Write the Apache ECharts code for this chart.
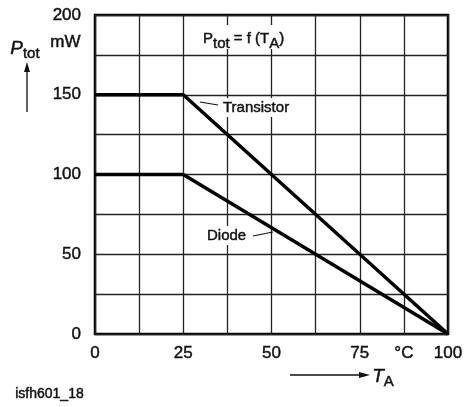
<!DOCTYPE html>
<html>
<head>
<meta charset="utf-8">
<script src="https://cdn.jsdelivr.net/npm/echarts@6/dist/echarts.min.js"></script>
<style>
  html, body { margin: 0; padding: 0; background: #fff; }
  #chart { width: 466px; height: 407px; }
</style>
</head>
<body>
<div id="chart"></div>
<script>
// ambient temperature (°C) vs total power dissipation (mW)
const transistorT = [0, 25, 100];
const transistorP = [150, 150, 0];
const diodeT = [0, 25, 100];
const diodeP = [100, 100, 0];
const xTickLabels = { 0: "0", 25: "25", 50: "50", 75: "75", 87.5: "°C", 100: "100" };
const yTickLabels = { 0: "0", 50: "50", 100: "100", 150: "150", 200: "200" };

const font = "Liberation Sans, Arial, Helvetica, sans-serif";
const ink = "#111";
// slight outline so the text reads as medium weight like the original
const heavy = { textBorderColor: ink, textBorderWidth: 0.45 }; // axis labels
const heavyG = { stroke: ink, lineWidth: 0.45 };                 // graphic text

let my_chart = echarts.init(document.getElementById("chart"));

function pairs(xs, ys) {
  return xs.map((x, i) => [x, ys[i]]);
}

my_chart.setOption({
  animation: false,
  backgroundColor: "#fff",
  grid: {
    left: 95,
    right: 18,
    top: 15,
    bottom: 73,
    show: true,
    borderColor: "#000",
    borderWidth: 2.5,
  },
  xAxis: {
    type: "value",
    min: 0,
    max: 100,
    interval: 12.5,
    axisLine: { show: false },
    axisTick: { show: false },
    splitLine: { lineStyle: { color: "#222", width: 1.3 } },
    axisLabel: Object.assign({
      margin: 11,
      color: ink,
      fontFamily: font,
      fontSize: 17,
      formatter: (v) => (xTickLabels[v] !== undefined ? xTickLabels[v] : ""),
    }, heavy),
  },
  yAxis: {
    type: "value",
    min: 0,
    max: 200,
    interval: 25,
    axisLine: { show: false },
    axisTick: { show: false },
    splitLine: { lineStyle: { color: "#222", width: 1.3 } },
    axisLabel: Object.assign({
      margin: 14,
      color: ink,
      fontFamily: font,
      fontSize: 17,
      formatter: (v) => (yTickLabels[v] !== undefined ? yTickLabels[v] : ""),
    }, heavy),
  },
  series: [
    {
      name: "Transistor",
      type: "line",
      data: pairs(transistorT, transistorP),
      symbol: "none",
      lineStyle: { color: "#000", width: 3.5 },
      z: 3,
    },
    {
      name: "Diode",
      type: "line",
      data: pairs(diodeT, diodeP),
      symbol: "none",
      lineStyle: { color: "#000", width: 3.5 },
      z: 3,
    },
  ],
  graphic: [
    // title
    {
      type: "text",
      left: 200,
      top: 25,
      z: 10,
      style: {
        text: "{n|P}{s|tot}{n| = f (T}{s|A}{n|)}",
        backgroundColor: "#fff",
        padding: [3, 3, 3, 3],
        rich: {
          n: Object.assign({ fontFamily: font, fontSize: 15, fill: ink, verticalAlign: "bottom", lineHeight: 18 }, heavyG),
          s: Object.assign({ fontFamily: font, fontSize: 15, fill: ink, verticalAlign: "bottom", lineHeight: 13, padding: [0, 0, -5, 0] }, heavyG),
        },
      },
    },
    // y axis name
    {
      type: "text",
      left: 10,
      top: 36,
      style: {
        text: "{i|P}{s|tot}",
        rich: {
          i: Object.assign({ fontFamily: font, fontSize: 19, fontStyle: "italic", fill: ink, lineHeight: 22 }, heavyG),
          s: Object.assign({ fontFamily: font, fontSize: 15, fill: ink, lineHeight: 22, padding: [10, 0, 0, 0] }, heavyG),
        },
      },
    },
    {
      type: "text",
      left: 50,
      top: 34,
      style: Object.assign({ text: "mW", fontFamily: font, fontSize: 17, fill: ink }, heavyG),
    },
    { type: "line", shape: { x1: 27, y1: 112, x2: 27, y2: 70 }, style: { stroke: ink, lineWidth: 1.3 } },
    { type: "polygon", shape: { points: [[27, 62], [24, 72], [30, 72]] }, style: { fill: ink } },
    // x axis name
    { type: "line", shape: { x1: 290, y1: 375, x2: 360, y2: 375 }, style: { stroke: ink, lineWidth: 1.3 } },
    { type: "polygon", shape: { points: [[370, 375], [359, 372], [359, 378]] }, style: { fill: ink } },
    {
      type: "text",
      left: 372,
      top: 364,
      style: {
        text: "{i|T}{s|A}",
        rich: {
          i: Object.assign({ fontFamily: font, fontSize: 19, fontStyle: "italic", fill: ink, lineHeight: 22 }, heavyG),
          s: Object.assign({ fontFamily: font, fontSize: 15, fill: ink, lineHeight: 22, padding: [10, 0, 0, 0] }, heavyG),
        },
      },
    },
    // series labels
    { type: "line", z: 9, shape: { x1: 200, y1: 102, x2: 218, y2: 105 }, style: { stroke: ink, lineWidth: 1.2 } },
    {
      type: "text",
      left: 221,
      top: 98,
      z: 10,
      style: Object.assign({ text: "Transistor", fontFamily: font, fontSize: 15, fill: ink, backgroundColor: "#fff", padding: [2, 2, 2, 2] }, heavyG),
    },
    { type: "line", z: 9, shape: { x1: 253, y1: 236, x2: 273, y2: 232 }, style: { stroke: ink, lineWidth: 1.2 } },
    {
      type: "text",
      left: 205,
      top: 226,
      z: 10,
      style: Object.assign({ text: "Diode", fontFamily: font, fontSize: 15, fill: ink, backgroundColor: "#fff", padding: [2, 2, 2, 2] }, heavyG),
    },
    // figure id
    {
      type: "text",
      left: 15,
      top: 387,
      style: Object.assign({ text: "isfh601_18", fontFamily: font, fontSize: 14, fill: ink }, heavyG),
    },
  ],
});
</script>
</body>
</html>
